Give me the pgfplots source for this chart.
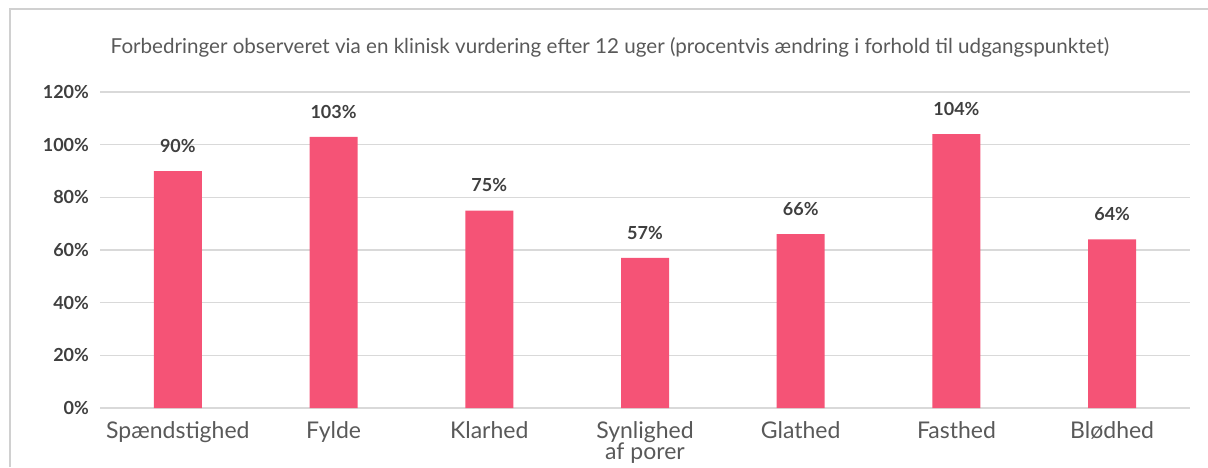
\documentclass[border=0pt]{standalone}
\usepackage{pgfplots}
\pgfplotsset{compat=1.18}
\usepackage{fontspec}
\setmainfont{Lato}
\definecolor{barpink}{HTML}{F55376}
\definecolor{gridgray}{HTML}{D9D9D9}
\definecolor{framegray}{HTML}{D0D0D0}
\definecolor{titlegray}{HTML}{595959}
\definecolor{ticktext}{HTML}{3F3F3F}
\begin{document}
\begin{tikzpicture}
% 1 px of the reference = 0.5pt
\useasboundingbox (0,0) rectangle (604pt,233.5pt);
\draw[framegray, line width=0.6pt] (5pt,0) -- (5pt,229pt) -- (604pt,229pt);
\node[text=titlegray, font=\fontsize{10.3}{12}\selectfont] at (305pt,210pt)
  {Forbedringer observeret via en klinisk vurdering efter 12 uger (procentvis ændring i forhold til udgangspunktet)};
\begin{axis}[
  at={(50pt,29.5pt)}, anchor=south west,
  scale only axis,
  width=545pt, height=158pt,
  /pgf/number format/assume math mode=true,
  xmin=-0.5, xmax=6.5,
  ymin=0, ymax=120,
  ytick={0,20,...,120},
  yticklabel={\pgfmathprintnumber{\tick}\%},
  yticklabel style={font=\fontsize{9}{10}\selectfont\bfseries, text=ticktext, xshift=-2pt},
  xtick={0,...,6},
  xticklabels={Spændstighed,Fylde,Klarhed,{Synlighed\\af porer},Glathed,Fasthed,Blødhed},
  xticklabel style={font=\fontsize{11.5}{10.5}\selectfont, text=titlegray, align=center, yshift=-3pt},
  ymajorgrids,
  grid style={gridgray, line width=0.7pt},
  axis line style={draw=none},
  major tick length=0pt,
  ybar, bar width=24pt,
  nodes near coords={\pgfmathprintnumber{\pgfplotspointmeta}\%},
  every node near coord/.append style={anchor=center, yshift=12.5pt,
    font=\fontsize{9}{10}\selectfont\bfseries, text=ticktext},
  clip=false,
]
\addplot[fill=barpink, draw=none] coordinates {
  (0,90) (1,103) (2,75) (3,57) (4,66) (5,104) (6,64)
};
\end{axis}
\end{tikzpicture}
\end{document}
